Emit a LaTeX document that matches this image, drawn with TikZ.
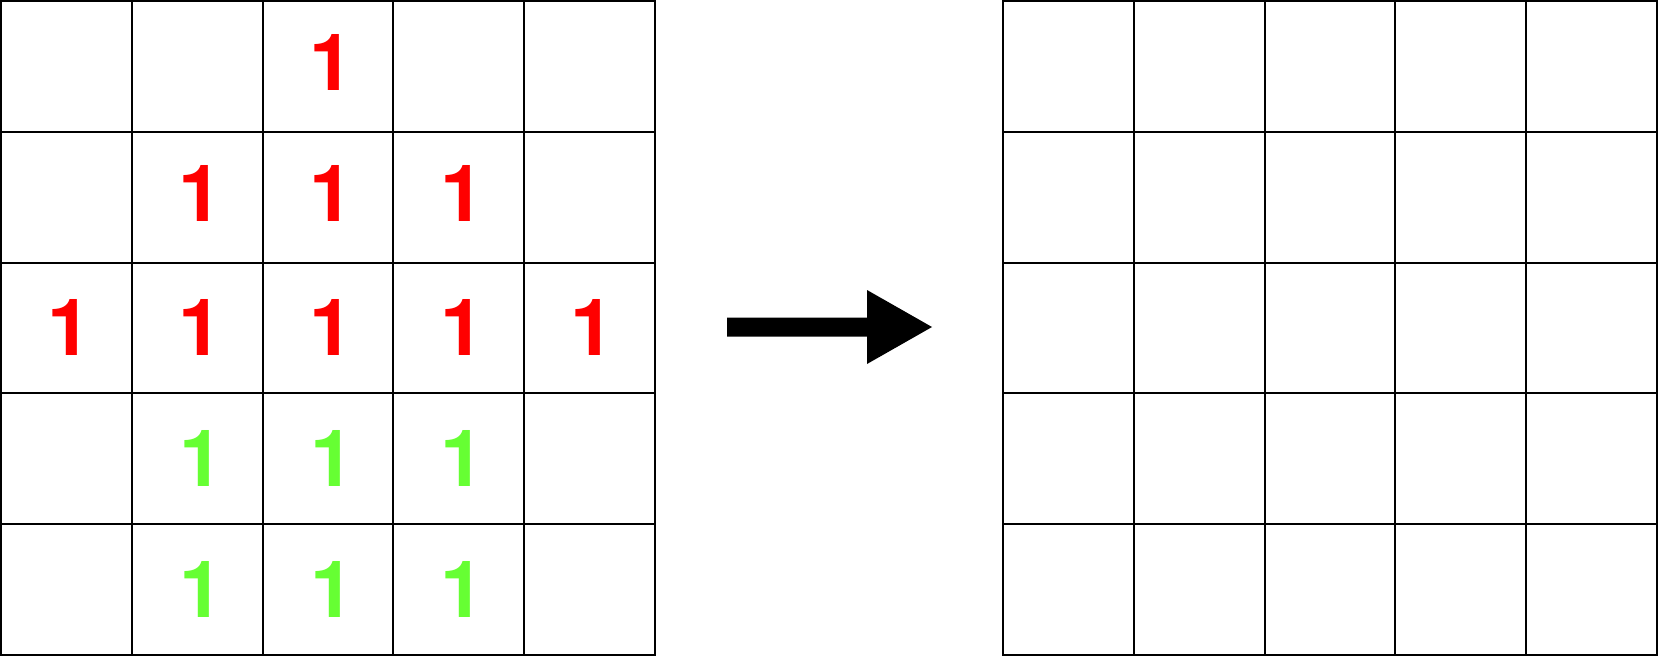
\documentclass[tikz,border=0pt]{standalone}
\usepackage{fontspec}
\newfontfamily\digitfont{TeX Gyre Heros}
\definecolor{digred}{HTML}{FF0000}
\definecolor{diggreen}{HTML}{66FF33}
\begin{document}
\begin{tikzpicture}[x=1pt,y=-1pt,
  cell/.style={minimum size=130pt,inner sep=0pt,outer sep=0pt},
  gridline/.style={draw=black,line width=2pt,line cap=rect},
  digit/.style={font=\digitfont\bfseries\fontsize{79}{79}\selectfont,anchor=base,inner sep=0pt},
  reddigit/.style={digit,text=digred},
  greendigit/.style={digit,text=diggreen}]
\useasboundingbox (0,0) rectangle (1658,656);
% cells (named) of both grids
\foreach \r in {0,...,4}{
  \foreach \c in {0,...,4}{
    \node[cell] (L\r\c) at ({1+130.8*(\c+0.5)},{1+130.8*(\r+0.5)}) {};
    \node[cell] (R\r\c) at ({1003+130.8*(\c+0.5)},{1+130.8*(\r+0.5)}) {};
  }
}
% grid lines
\foreach \p in {1,132,263,393,524,655}{
  \draw[gridline] (\p,1) -- (\p,655);
  \draw[gridline] (1,\p) -- (655,\p);
  \draw[gridline] ({\p+1002},1) -- ({\p+1002},655);
  \draw[gridline] (1003,\p) -- (1657,\p);
}
% red digits
\node[reddigit] (d02) at (331.4,90) {1};
\node[reddigit] (d11) at (200.4,221.5) {1};
\node[reddigit] (d12) at (331.4,221.5) {1};
\node[reddigit] (d13) at (462.0,221.5) {1};
\node[reddigit] (d20) at (69.6,355) {1};
\node[reddigit] (d21) at (200.4,355) {1};
\node[reddigit] (d22) at (331.4,355) {1};
\node[reddigit] (d23) at (462.0,355) {1};
\node[reddigit] (d24) at (592.8,355) {1};
% green digits
\node[greendigit] (d31) at (201.0,486.5) {1};
\node[greendigit] (d32) at (332.0,486.5) {1};
\node[greendigit] (d33) at (462.8,486.5) {1};
\node[greendigit] (d41) at (201.0,617) {1};
\node[greendigit] (d42) at (332.0,617) {1};
\node[greendigit] (d43) at (462.8,617) {1};
% block arrow
\fill[black] (727,317.5) -- (867,317.5) -- (867,290) -- (932,327) -- (867,364)
  -- (867,336.5) -- (727,336.5) -- cycle;
\end{tikzpicture}
\end{document}
